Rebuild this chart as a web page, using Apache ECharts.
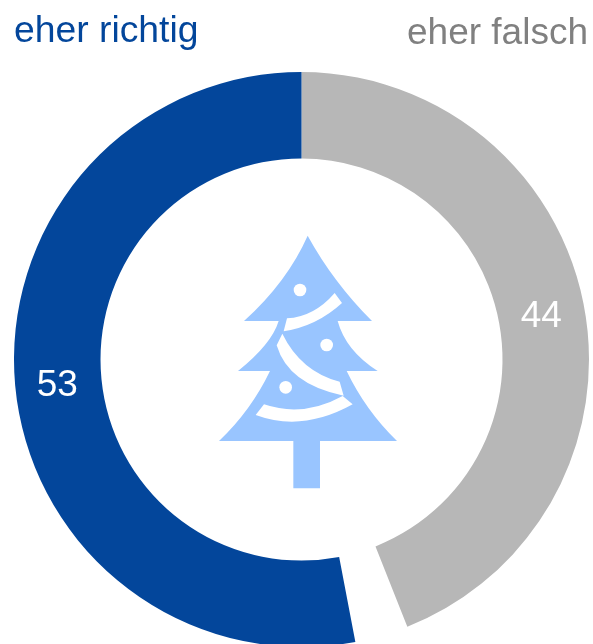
<!DOCTYPE html>
<html>
<head>
<meta charset="utf-8">
<style>html,body{margin:0;padding:0;background:#fff}#c{width:593px;height:644px}</style>
<script src="https://cdn.jsdelivr.net/npm/echarts@6/dist/echarts.min.js"></script>
</head>
<body>
<div id="c"></div>
<script>
const categories = ['eher falsch', 'Lücke', 'eher richtig'];
const values = [44, 3, 53];
const colors = ['#B7B7B7', 'transparent', '#03469B'];
const labelOffsets = [[-3, 4], [0, 0], [2, 3]];
const treePath = 'M323 47 Q400 187 516 303 L413 303 Q437 392 533 453 L440 453 Q497 572 591 663 L360 663 L360 805 L280 805 L280 663 L57 663 Q153 572 210 453 L114 453 Q215 372 236 303 L132 303 Q262 185 323 47 Z';
const garlandPaths = [
  'M404 219 L426 249 Q351 318 251 334 L261 295 Q342 291 404 219 Z',
  'M247 341 Q303 455 419 485 L431 527 Q265 494 230 376 Z',
  'M192 553 Q310 593 428 528 L458 553 Q307 637 167 585 Z'
];
const ornaments = [[300, 210, 19], [380, 375, 19], [257, 502, 19]];

const chart = echarts.init(document.getElementById('c'), null, {renderer: 'canvas'});
const font = '"Liberation Sans", Arial, sans-serif';
const white = {fill: '#fff'};
chart.setOption({
  animation: false,
  title: [
    {text: 'eher richtig', left: 14, top: 13, textStyle: {color: '#03469B', fontSize: 37.3, fontWeight: 'normal', fontFamily: font}, padding: 0},
    {text: 'eher falsch', right: 5, top: 15, textStyle: {color: '#808080', fontSize: 37, fontWeight: 'normal', fontFamily: font}, padding: 0}
  ],
  series: [{
    type: 'pie',
    center: [301.5, 359.5],
    radius: [201, 287.5],
    startAngle: 90,
    clockwise: true,
    silent: true,
    itemStyle: {borderWidth: 0},
    label: {
      show: true,
      position: 'inside',
      color: '#fff',
      fontSize: 37,
      fontFamily: font,
      formatter: p => p.name === 'Lücke' ? '' : String(p.value)
    },
    labelLine: {show: false},
    emphasis: {disabled: true},
    data: categories.map((name, i) => ({name, value: values[i], itemStyle: {color: colors[i]}, label: {offset: labelOffsets[i]}}))
  }, {
    type: 'custom',
    coordinateSystem: 'none',
    silent: true,
    data: [0],
    renderItem: () => ({
      type: 'group',
      x: 200, y: 220, scaleX: 1/3, scaleY: 1/3,
      children: [
        {type: 'path', shape: {pathData: treePath}, style: {fill: '#99C5FF'}},
        ...garlandPaths.map(d => ({type: 'path', shape: {pathData: d}, style: white})),
        ...ornaments.map(o => ({type: 'circle', shape: {cx: o[0], cy: o[1], r: o[2]}, style: white}))
      ]
    })
  }]
});
</script>
</body>
</html>
